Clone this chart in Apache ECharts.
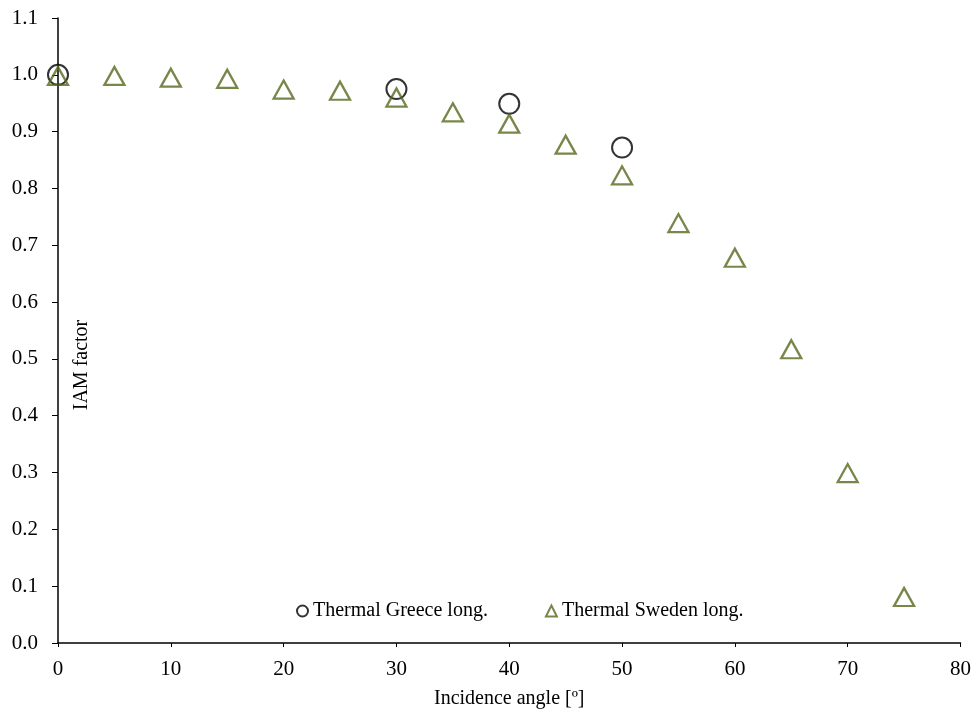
<!DOCTYPE html>
<html>
<head>
<meta charset="utf-8">
<script src="https://cdn.jsdelivr.net/npm/echarts@6/dist/echarts.min.js"></script>
<style>html,body{margin:0;padding:0;background:#fff;overflow:hidden}#c{width:974px;height:714px}</style>
</head>
<body>
<div id="c"></div>
<script>
const greeceAngles = [0, 30, 40, 50];
const greeceValues = [1.0, 0.975, 0.949, 0.872];
const swedenAngles = [0, 5, 10, 15, 20, 25, 30, 35, 40, 45, 50, 55, 60, 65, 70, 75];
const swedenValues = [0.998, 0.998, 0.995, 0.993, 0.974, 0.972, 0.96, 0.934, 0.914, 0.877, 0.823, 0.739, 0.678, 0.517, 0.299, 0.081];
const seriesNames = ['Thermal Greece long.', 'Thermal Sweden long.'];
const xAxisTitle = 'Incidence angle [º]';
const yAxisTitle = 'IAM factor';

const FONT = 'Liberation Serif';
const olive = '#55691c';
const chart = echarts.init(document.getElementById('c'));
const pair = (xs, ys) => xs.map((x, i) => [x, ys[i]]);
chart.setOption({
  animation: false,
  backgroundColor: '#fff',
  grid: { left: 58, right: 12, top: 18, bottom: 68, containLabel: false },
  legend: {
    left: 291, top: 596, itemGap: 57, itemWidth: 11, itemHeight: 11,
    textStyle: { fontFamily: FONT, fontSize: 20, color: '#000' },
    data: seriesNames
  },
  xAxis: {
    type: 'value', min: 0, max: 80, interval: 10,
    name: xAxisTitle, nameLocation: 'middle', nameGap: 46,
    nameTextStyle: { fontFamily: FONT, fontSize: 20, color: '#000' },
    axisLine: { lineStyle: { color: '#000', width: 1.5 } },
    axisTick: { show: true, length: 4, lineStyle: { color: '#000' } },
    axisLabel: { fontFamily: FONT, fontSize: 21, color: '#000', margin: 16 },
    splitLine: { show: false }
  },
  yAxis: {
    type: 'value', min: 0, max: 1.1, interval: 0.1,
    axisLine: { show: true, lineStyle: { color: '#000', width: 1.5 } },
    axisTick: { show: true, length: 6, lineStyle: { color: '#000' } },
    axisLabel: { fontFamily: FONT, fontSize: 21, color: '#000', margin: 20,
      formatter: v => v.toFixed(1) },
    splitLine: { show: false }
  },
  graphic: [{
    type: 'text', x: 82, y: 365, rotation: Math.PI / 2,
    style: { text: yAxisTitle, fontFamily: FONT, fontSize: 20, fill: '#000',
      textAlign: 'center', textVerticalAlign: 'middle' }
  }],
  series: [
    {
      name: seriesNames[0], type: 'scatter', symbol: 'circle', symbolSize: 20,
      data: pair(greeceAngles, greeceValues), z: 3,
      itemStyle: { color: 'rgba(255,255,255,0)', borderColor: '#000', borderWidth: 2 }
    },
    {
      name: seriesNames[1], type: 'scatter', symbol: 'triangle', symbolSize: [20, 18],
      data: pair(swedenAngles, swedenValues), z: 4,
      itemStyle: { color: 'rgba(255,255,255,0)', borderColor: olive, borderWidth: 2.3 }
    }
  ]
});
</script>
</body>
</html>
